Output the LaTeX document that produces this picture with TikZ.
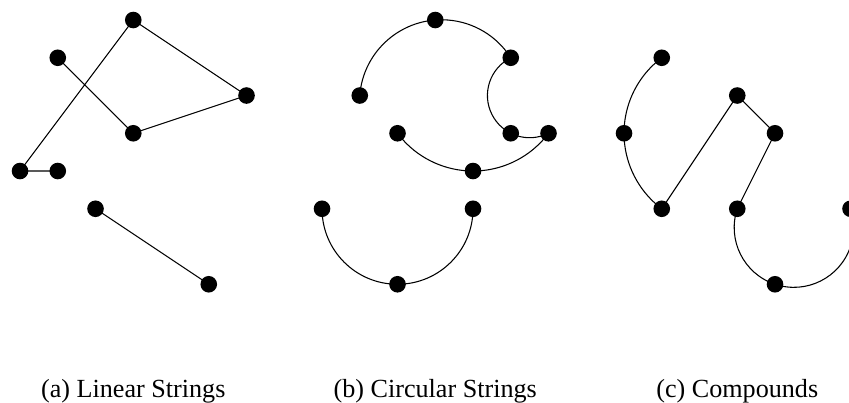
\documentclass[tikz,border=0pt]{standalone}
\usepackage{fontspec}
\setmainfont{Liberation Serif}
\begin{document}
\begin{tikzpicture}[
  pt/.style={circle,fill=black,inner sep=0pt,minimum size=0.44cm},
  seg/.style={line width=0.8pt},
  captext/.style={anchor=base,font=\fontsize{19.7pt}{24pt}\selectfont}
]
\useasboundingbox (-0.53,-10.145) rectangle (21.96,0.53);
% (a) Linear strings
\node[pt] (A1) at (3,0) {};
\node[pt] (A2) at (1,-1) {};
\node[pt] (A3) at (6,-2) {};
\node[pt] (A4) at (3,-3) {};
\node[pt] (A5) at (0,-4) {};
\node[pt] (A6) at (1,-4) {};
\node[pt] (A7) at (2,-5) {};
\node[pt] (A8) at (5,-7) {};
\draw[seg] (A6.center) -- (A5.center) -- (A1.center) -- (A3.center) -- (A4.center) -- (A2.center);
\draw[seg] (A7.center) -- (A8.center);
% (b) Circular strings
\node[pt] (B1) at (11,0) {};
\node[pt] (B2) at (13,-1) {};
\node[pt] (B3) at (9,-2) {};
\node[pt] (B4) at (10,-3) {};
\node[pt] (B5) at (13,-3) {};
\node[pt] (B6) at (14,-3) {};
\node[pt] (B7) at (12,-4) {};
\node[pt] (B8) at (8,-5) {};
\node[pt] (B9) at (12,-5) {};
\node[pt] (B10) at (10,-7) {};
\draw[seg] (B3.center) arc[start angle=175.60, end angle=32.47, radius=2.1731];
\draw[seg] (B2.center) arc[start angle=116.565, end angle=296.565, radius=1.11803];
\draw[seg] (B6.center) arc[start angle=-36.870, end angle=-143.130, radius=2.5];
\draw[seg] (B8.center) arc[start angle=180, end angle=360, radius=2];
% (c) Compounds
\node[pt] (C1) at (17,-1) {};
\node[pt] (C2) at (16,-3) {};
\node[pt] (C3) at (17,-5) {};
\node[pt] (C4) at (19,-2) {};
\node[pt] (C5) at (20,-3) {};
\node[pt] (C6) at (19,-5) {};
\node[pt] (C7) at (20,-7) {};
\node[pt] (C8) at (22,-5) {};
\draw[seg] (C1.center) arc[start angle=126.870, end angle=233.130, radius=2.5];
\draw[seg] (C3.center) -- (C4.center) -- (C5.center) -- (C6.center);
\draw[seg] (C6.center) arc[start angle=161.565, end angle=378.435, radius=1.58114];
% captions
\node[captext] (capA) at (3,-10) {(a) Linear Strings};
\node[captext] (capB) at (11,-10) {(b) Circular Strings};
\node[captext] (capC) at (19,-10) {(c) Compounds};
\end{tikzpicture}
\end{document}
